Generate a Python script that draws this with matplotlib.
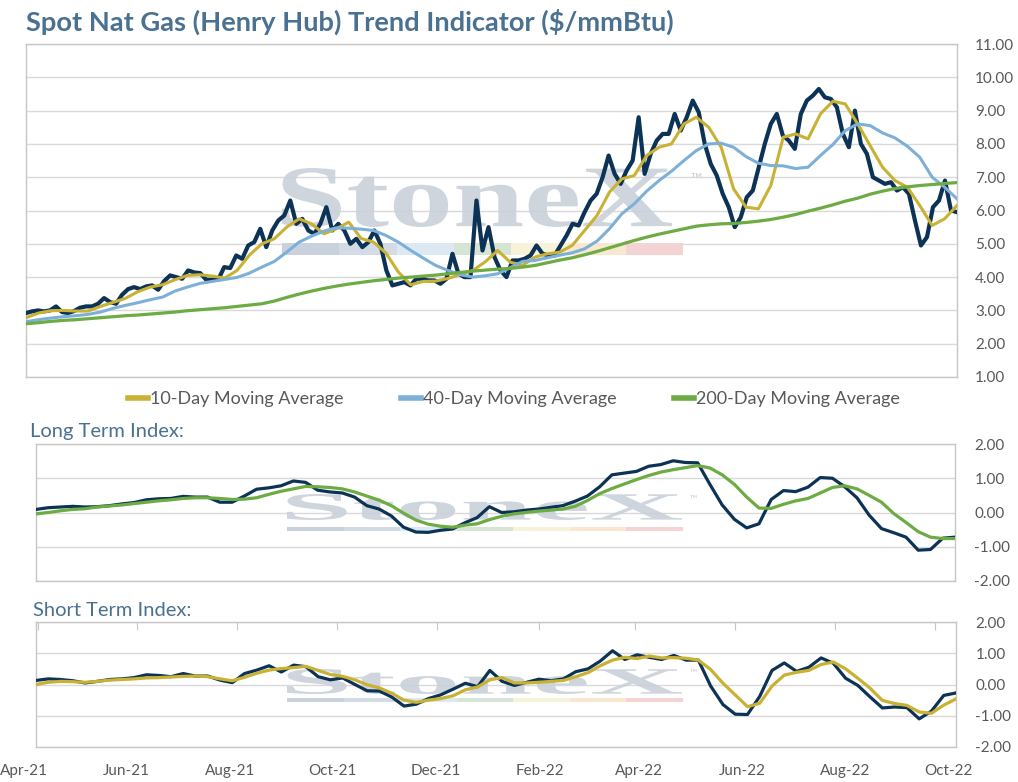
import matplotlib
matplotlib.use('Agg')
import matplotlib.pyplot as plt
import matplotlib.dates as mdates
import matplotlib.transforms as mtransforms
from matplotlib.ticker import FuncFormatter
from matplotlib.textpath import TextPath
from matplotlib.patches import PathPatch, Rectangle
from matplotlib.font_manager import FontProperties
from matplotlib.lines import Line2D
import pandas as pd

plt.rcParams['font.family'] = ['Lato', 'DejaVu Sans']

W, H = 1018, 782

NAVY = '#0c3356'
GOLD = '#c9b133'
BLUE = '#7db0d8'
GREEN = '#6dab43'
TICK = '#595959'
HEAD = '#4a7191'
FRAME = '#c6c6c6'
GRID = '#d9d9d9'

START, END = '2021-03-31', '2022-10-14'

# ── Spot price (Henry Hub, $/mmBtu) ─────────────────────────────────────────
spot = [2.92, 2.97, 3.00, 2.97, 3.00, 3.12, 2.95, 2.92, 2.98, 3.08,
        3.12, 3.12, 3.20, 3.37, 3.25, 3.20, 3.47, 3.64, 3.70, 3.64,
        3.72, 3.75, 3.62, 3.88, 4.05, 4.00, 3.95, 4.20, 4.14, 4.12,
        3.92, 3.92, 3.92, 4.30, 4.27, 4.65, 4.55, 4.95, 5.05, 5.45,
        4.90, 5.40, 5.70, 5.85, 6.30, 5.60, 5.75, 5.40, 5.30, 5.60,
        6.10, 5.40, 5.60, 5.40, 5.00, 5.15, 4.90, 5.05, 5.40, 5.00,
        4.20, 3.75, 3.80, 3.85, 3.75, 3.95, 3.95, 3.90, 3.90, 3.80,
        3.95, 4.70, 4.10, 4.00, 4.00, 6.30, 4.80, 5.50, 4.60, 4.20,
        4.00, 4.50, 4.50, 4.55, 4.65, 4.95, 4.70, 4.65, 4.65, 4.95,
        5.25, 5.60, 5.55, 5.95, 6.30, 6.50, 7.00, 7.65, 7.10, 6.80,
        7.20, 7.50, 8.80, 7.10, 7.70, 8.10, 8.30, 8.30, 8.90, 8.40,
        8.80, 9.30, 8.95, 8.00, 7.40, 7.05, 6.50, 6.10, 5.50, 5.80,
        6.40, 6.60, 7.30, 8.00, 8.60, 8.90, 8.25, 8.10, 7.85, 8.90,
        9.30, 9.45, 9.65, 9.40, 9.35, 9.10, 8.30, 7.90, 9.00, 8.00,
        7.70, 7.00, 6.90, 6.80, 6.85, 6.60, 6.70, 6.50, 5.70, 4.95,
        5.20, 6.10, 6.30, 6.90, 6.00, 5.95]

ma10 = [2.78, 2.92, 2.99, 3.00, 2.98, 2.98, 3.12, 3.24, 3.36, 3.56,
        3.70, 3.77, 3.92, 4.05, 4.07, 4.03, 3.97, 4.20, 4.66, 5.00,
        5.15, 5.50, 5.75, 5.60, 5.30, 5.45, 5.65, 5.16, 5.05, 4.72,
        4.15, 3.77, 3.87, 3.88, 3.96, 4.08, 4.20, 4.46, 4.80, 4.45,
        4.35, 4.60, 4.70, 4.75, 4.95, 5.40, 5.85, 6.55, 6.95, 7.05,
        7.65, 7.90, 8.00, 8.60, 8.80, 8.50, 7.90, 6.65, 6.10, 6.05,
        6.75, 8.20, 8.30, 8.15, 8.90, 9.28, 9.20, 8.60, 7.95, 7.30,
        6.90, 6.70, 6.15, 5.55, 5.75, 6.15]

ma40 = [2.66, 2.72, 2.77, 2.81, 2.84, 2.88, 2.95, 3.06, 3.15, 3.23,
        3.32, 3.40, 3.58, 3.70, 3.81, 3.87, 3.93, 3.99, 4.12, 4.30,
        4.47, 4.75, 5.05, 5.23, 5.38, 5.48, 5.47, 5.44, 5.40, 5.25,
        5.05, 4.80, 4.57, 4.35, 4.20, 4.07, 4.00, 4.04, 4.10, 4.28,
        4.47, 4.50, 4.58, 4.66, 4.73, 4.85, 5.08, 5.45, 5.90, 6.20,
        6.58, 6.90, 7.18, 7.50, 7.80, 8.00, 8.02, 7.90, 7.62, 7.42,
        7.35, 7.34, 7.26, 7.30, 7.65, 7.98, 8.40, 8.60, 8.55, 8.33,
        8.18, 7.93, 7.60, 7.00, 6.70, 6.35]

ma200 = [2.60, 2.63, 2.67, 2.70, 2.72, 2.75, 2.78, 2.81, 2.84, 2.86,
         2.89, 2.92, 2.95, 2.99, 3.02, 3.05, 3.08, 3.12, 3.16, 3.20,
         3.28, 3.39, 3.49, 3.58, 3.66, 3.73, 3.79, 3.84, 3.89, 3.93,
         3.97, 4.00, 4.03, 4.06, 4.10, 4.14, 4.18, 4.21, 4.24, 4.26,
         4.30, 4.35, 4.43, 4.51, 4.58, 4.67, 4.77, 4.88, 4.99, 5.10,
         5.20, 5.29, 5.37, 5.45, 5.53, 5.57, 5.60, 5.61, 5.64, 5.68,
         5.73, 5.80, 5.88, 5.98, 6.07, 6.17, 6.28, 6.37, 6.49, 6.58,
         6.66, 6.71, 6.75, 6.78, 6.81, 6.84]

# ── Long / short term indices ───────────────────────────────────────────────
lt_idx = [0.09, 0.14, 0.16, 0.18, 0.16, 0.17, 0.20, 0.25, 0.29, 0.37,
          0.40, 0.41, 0.47, 0.45, 0.45, 0.30, 0.30, 0.48, 0.68, 0.72,
          0.78, 0.92, 0.88, 0.65, 0.60, 0.57, 0.45, 0.20, 0.10, -0.10,
          -0.43, -0.57, -0.58, -0.52, -0.48, -0.30, -0.15, 0.17, 0.00, 0.02,
          0.07, 0.10, 0.15, 0.20, 0.33, 0.48, 0.75, 1.10, 1.15, 1.20,
          1.35, 1.40, 1.51, 1.46, 1.45, 0.82, 0.22, -0.20, -0.45, -0.33,
          0.38, 0.64, 0.61, 0.74, 1.02, 1.00, 0.75, 0.43, -0.08, -0.47,
          -0.59, -0.72, -1.10, -1.08, -0.75, -0.72]

lt_avg = [-0.04, 0.00, 0.05, 0.09, 0.11, 0.16, 0.19, 0.22, 0.26, 0.30,
          0.34, 0.37, 0.41, 0.43, 0.43, 0.41, 0.38, 0.39, 0.43, 0.53,
          0.62, 0.69, 0.76, 0.75, 0.73, 0.69, 0.60, 0.48, 0.36, 0.20,
          -0.02, -0.22, -0.34, -0.40, -0.43, -0.37, -0.33, -0.21, -0.11, -0.04,
          0.00, 0.04, 0.07, 0.10, 0.18, 0.35, 0.55, 0.70, 0.83, 0.96,
          1.08, 1.18, 1.25, 1.31, 1.37, 1.30, 1.10, 0.82, 0.45, 0.13,
          0.12, 0.24, 0.34, 0.41, 0.57, 0.73, 0.78, 0.69, 0.50, 0.30,
          -0.03, -0.29, -0.56, -0.72, -0.76, -0.76]

st_idx = [0.13, 0.18, 0.16, 0.12, 0.05, 0.10, 0.16, 0.18, 0.22, 0.31,
          0.29, 0.25, 0.35, 0.27, 0.27, 0.14, 0.06, 0.35, 0.46, 0.60,
          0.40, 0.62, 0.57, 0.25, 0.15, 0.21, 0.00, -0.20, -0.21, -0.40,
          -0.69, -0.63, -0.45, -0.33, -0.15, 0.04, -0.07, 0.45, 0.10, -0.03,
          0.07, 0.17, 0.12, 0.18, 0.41, 0.50, 0.75, 1.08, 0.80, 0.95,
          0.87, 0.80, 0.93, 0.78, 0.78, -0.05, -0.64, -0.95, -0.96, -0.38,
          0.45, 0.69, 0.42, 0.55, 0.85, 0.68, 0.20, -0.03, -0.40, -0.75,
          -0.72, -0.74, -1.10, -0.85, -0.35, -0.27]

st_avg = [0.00, 0.07, 0.10, 0.09, 0.07, 0.10, 0.14, 0.16, 0.18, 0.21,
          0.22, 0.24, 0.26, 0.27, 0.25, 0.18, 0.12, 0.23, 0.36, 0.46,
          0.51, 0.54, 0.58, 0.45, 0.32, 0.26, 0.15, -0.01, -0.11, -0.28,
          -0.50, -0.57, -0.50, -0.45, -0.36, -0.17, -0.08, 0.15, 0.22, 0.05,
          0.05, 0.07, 0.10, 0.13, 0.25, 0.38, 0.60, 0.78, 0.87, 0.83,
          0.91, 0.85, 0.86, 0.84, 0.78, 0.48, 0.04, -0.33, -0.71, -0.60,
          -0.05, 0.30, 0.39, 0.45, 0.64, 0.72, 0.50, 0.20, -0.12, -0.51,
          -0.61, -0.67, -0.88, -0.92, -0.66, -0.46]

month_ticks = pd.date_range('2021-04-01', '2022-10-01', freq='2MS')

d_spot = pd.date_range(START, END, periods=len(spot))
d_ma = pd.date_range(START, END, periods=len(ma10))
d_idx = pd.date_range(START, END, periods=len(lt_idx))

fig = plt.figure(figsize=(W / 100, H / 100), dpi=100)


def px_axes(l, t, r, b):
    return fig.add_axes([l / W, 1 - b / H, (r - l) / W, (b - t) / H])


def fmt(v, _):
    s = f'{v:.2f}'
    return '0.00' if s == '-0.00' else s


def style(ax, lo, hi, step, pad):
    ax.set_ylim(lo, hi)
    ax.set_yticks([lo + step * i for i in range(int(round((hi - lo) / step)) + 1)])
    ax.yaxis.set_major_formatter(FuncFormatter(fmt))
    ax.yaxis.tick_right()
    ax.tick_params(axis='y', length=0, pad=pad, labelsize=11, labelcolor=TICK)
    ax.grid(axis='y', color=GRID, lw=1.0, zorder=0)
    ax.set_axisbelow(True)
    for sp in ax.spines.values():
        sp.set_color(FRAME)
        sp.set_linewidth(1.0)
    ax.set_xlim(pd.Timestamp(START), pd.Timestamp(END))


STRIP = ['#c9d2dc', '#d3dce6', '#dce8f2', '#d5e4d5', '#f7f2da', '#f9e7d0', '#f3d3d3']


def watermark(ax, l, t, r, b, s_top, s_bot, tm_y, tm_size):
    tp = TextPath((0, 0), 'StoneX', size=100,
                  prop=FontProperties(family='Liberation Serif', weight='bold'))
    ext = tp.get_extents()
    tr = (mtransforms.Affine2D().translate(-ext.x0, -ext.y0)
          .scale((r - l) / W / ext.width, (b - t) / H / ext.height)
          .translate(l / W, 1 - b / H) + fig.transFigure)
    ax.add_patch(PathPatch(tp, transform=tr, facecolor='#c9d1da', edgecolor='none',
                           zorder=1, alpha=0.9))
    seg = (683 - l) / len(STRIP)
    for i, c in enumerate(STRIP):
        ax.add_patch(Rectangle(((l + i * seg) / W, 1 - s_bot / H), seg / W,
                               (s_bot - s_top) / H, transform=fig.transFigure,
                               facecolor=c, edgecolor='none', zorder=1))
    ax.text(690 / W, 1 - tm_y / H, '\u2122', transform=fig.transFigure, fontsize=tm_size,
            color='#c9d1da', va='center', ha='left', zorder=1)


# ── Top panel ───────────────────────────────────────────────────────────────
ax1 = px_axes(26, 44, 957, 377)
style(ax1, 1, 11, 1, 13)
ax1.set_xticks([])
watermark(ax1, 282, 168, 672, 227, 243, 255, 180, 11)
ax1.plot(d_spot, spot, color=NAVY, lw=3.0, zorder=3, solid_joinstyle='round')
ax1.plot(d_ma, ma10, color=GOLD, lw=2.2, zorder=4)
ax1.plot(d_ma, ma40, color=BLUE, lw=2.2, zorder=4)
ax1.plot(d_ma, ma200, color=GREEN, lw=2.3, zorder=5)

fig.text(26 / W, 1 - 22 / H, 'Spot Nat Gas (Henry Hub) Trend Indicator ($/mmBtu)',
         fontsize=19.6, fontweight='bold', color=HEAD, va='center', ha='left')

handles = [Line2D([], [], color=GOLD, lw=4),
           Line2D([], [], color=BLUE, lw=4),
           Line2D([], [], color=GREEN, lw=4)]
fig.legend(handles, ['10-Day Moving Average', '40-Day Moving Average',
                     '200-Day Moving Average'],
           loc='center', bbox_to_anchor=(514 / W, 1 - 399 / H), ncol=3,
           frameon=False, fontsize=13, labelcolor=TICK, handlelength=1.1,
           handletextpad=0.1, columnspacing=3.2)

# ── Long term index ─────────────────────────────────────────────────────────
fig.text(30 / W, 1 - 432 / H, 'Long Term Index:', fontsize=14.5, color=HEAD,
         va='center', ha='left')
ax2 = px_axes(36, 444, 955, 581)
style(ax2, -2, 2, 1, 14)
ax2.set_xticks([])
watermark(ax2, 287, 494, 682, 520, 527, 531, 499, 7)
ax2.plot(d_idx, lt_idx, color=NAVY, lw=2.3, zorder=3)
ax2.plot(d_idx, lt_avg, color=GREEN, lw=2.3, zorder=4)

# ── Short term index ────────────────────────────────────────────────────────
fig.text(33 / W, 1 - 610 / H, 'Short Term Index:', fontsize=14.5, color=HEAD,
         va='center', ha='left')
ax3 = px_axes(36, 622, 956, 747)
style(ax3, -2, 2, 1, 14)
watermark(ax3, 287, 669, 682, 694, 698, 702, 673, 7)
ax3.plot(d_idx, st_idx, color=NAVY, lw=2.3, zorder=3)
ax3.plot(d_idx, st_avg, color=GOLD, lw=2.3, zorder=4)
ax3.set_xticks(month_ticks)
ax3.xaxis.set_ticks_position('top')
ax3.tick_params(axis='x', direction='in', length=6, color=FRAME, labeltop=False,
                labelbottom=False)

# month labels
axl = px_axes(24, 757, 948, 758)
axl.set_xlim(month_ticks[0], month_ticks[-1])
axl.set_xticks(month_ticks)
axl.xaxis.set_major_formatter(mdates.DateFormatter('%b-%y'))
axl.tick_params(axis='x', length=0, pad=4, labelsize=11, labelcolor=TICK)
axl.set_yticks([])
for sp in axl.spines.values():
    sp.set_visible(False)
axl.patch.set_visible(False)

fig.savefig('out.png', dpi=100)
